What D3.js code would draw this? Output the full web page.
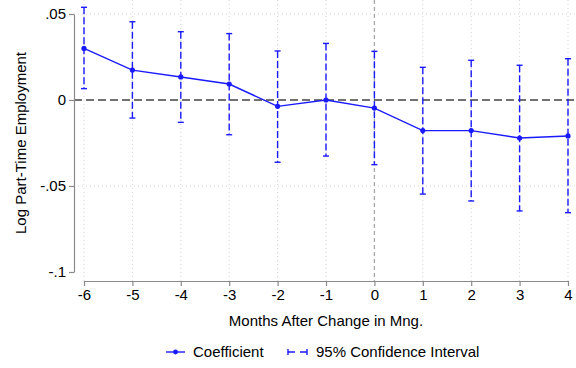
<!DOCTYPE html>
<html><head><meta charset="utf-8">
<script src="https://cdn.jsdelivr.net/npm/d3@7"></script>
<style>body{margin:0;background:#fff}svg{display:block}text{font-family:"Liberation Sans",Arial,sans-serif}</style>
</head><body>
<svg id="c" width="576" height="368"></svg>
<script>
const months = [-6,-5,-4,-3,-2,-1,0,1,2,3,4];
const coef   = [0.0300,0.0174,0.0134,0.0093,-0.0037,0.0000,-0.0047,-0.0178,-0.0178,-0.0221,-0.0209];
const ciHigh = [0.0539,0.0455,0.0397,0.0386,0.0285,0.0329,0.0283,0.0190,0.0231,0.0202,0.0240];
const ciLow  = [0.0066,-0.0105,-0.0130,-0.0202,-0.0362,-0.0326,-0.0376,-0.0547,-0.0587,-0.0645,-0.0655];
const yTicks = [-0.1,-0.05,0,0.05];
const yTickLabels = ["-.1","-.05","0",".05"];
const xLabel = "Months After Change in Mng.";
const yLabel = "Log Part-Time Employment";
const legendLabels = ["Coefficient","95% Confidence Interval"];

const svg = d3.select("#c");
const x = d3.scaleLinear().domain([-6,4]).range([84,568]);
const y = d3.scaleLinear().domain([-0.1,0.05]).range([272,14]);
const blue = "#1a1aff";
const plotTop = 0, plotBottom = 281, plotLeft = 74, plotRight = 576;

// gridlines
const g = svg.append("g");
g.selectAll(".vg").data(months.filter(m=>m!==0)).enter().append("line")
  .attr("x1",d=>x(d)).attr("x2",d=>x(d)).attr("y1",plotTop).attr("y2",plotBottom)
  .attr("stroke","#d4d4d4").attr("stroke-width",1).attr("stroke-dasharray","1,3");
g.selectAll(".hg").data([0.05,-0.05]).enter().append("line")
  .attr("x1",plotLeft).attr("x2",plotRight).attr("y1",d=>y(d)).attr("y2",d=>y(d))
  .attr("stroke","#d4d4d4").attr("stroke-width",1).attr("stroke-dasharray","1,3");
// reference lines
g.append("line").attr("x1",x(0)).attr("x2",x(0)).attr("y1",plotTop).attr("y2",plotBottom)
  .attr("stroke","#a8a8a8").attr("stroke-width",1.3).attr("stroke-dasharray","4,3");
g.append("line").attr("x1",plotLeft).attr("x2",plotRight).attr("y1",y(0)).attr("y2",y(0))
  .attr("stroke","#444").attr("stroke-width",1.3).attr("stroke-dasharray","8,4");

// axes
const yAxis = d3.axisLeft(y).tickValues(yTicks).tickFormat((d,i)=>yTickLabels[i]).tickSize(5).tickSizeOuter(0).tickPadding(3);
const ya = svg.append("g").attr("transform",`translate(${plotLeft},0)`).call(yAxis);
const xAxis = d3.axisBottom(x).tickValues(months).tickFormat(d3.format("d")).tickSize(5).tickSizeOuter(0).tickPadding(3);
const xa = svg.append("g").attr("transform",`translate(0,${plotBottom})`).call(xAxis);
[ya,xa].forEach(a=>{
  a.selectAll("path,line").attr("stroke","#8a8a8a").attr("stroke-width",1.2);
  a.selectAll("text").attr("font-size",15).attr("fill","#000").style("font-family","'Liberation Sans',Arial,sans-serif");
});
xa.selectAll("text").text((d)=>d<0?"-"+Math.abs(d):d);

svg.append("text").attr("x",(x(-6)+x(4))/2).attr("y",326).attr("text-anchor","middle").attr("font-size",15).text(xLabel);
svg.append("text").attr("transform",`translate(26,${(y(0.05)+y(-0.1))/2}) rotate(-90)`).attr("text-anchor","middle").attr("font-size",15).text(yLabel);

// CI
const ci = svg.append("g");
months.forEach((m,i)=>{
  ci.append("line").attr("x1",x(m)).attr("x2",x(m)).attr("y1",y(ciHigh[i])).attr("y2",y(ciLow[i]))
    .attr("stroke",blue).attr("stroke-width",1.4).attr("stroke-dasharray","7,3");
  [ciHigh[i],ciLow[i]].forEach(v=>{
    ci.append("line").attr("x1",x(m)-3).attr("x2",x(m)+3).attr("y1",y(v)).attr("y2",y(v))
      .attr("stroke",blue).attr("stroke-width",1.4);
  });
});

// coefficient line
const line = d3.line().x((d,i)=>x(months[i])).y(d=>y(d));
svg.append("path").datum(coef).attr("d",line).attr("fill","none").attr("stroke",blue).attr("stroke-width",1.4);
svg.selectAll(".pt").data(coef).enter().append("circle")
  .attr("cx",(d,i)=>x(months[i])).attr("cy",d=>y(d)).attr("r",2.6).attr("fill",blue);

// legend
const ly = 352;
const lg = svg.append("g");
lg.append("line").attr("x1",166).attr("x2",185).attr("y1",ly).attr("y2",ly).attr("stroke",blue).attr("stroke-width",1.4);
lg.append("circle").attr("cx",175.5).attr("cy",ly).attr("r",2.4).attr("fill",blue);
lg.append("text").attr("x",193).attr("y",ly+5).attr("font-size",15).text(legendLabels[0]);
lg.append("line").attr("x1",288).attr("x2",307).attr("y1",ly).attr("y2",ly).attr("stroke",blue).attr("stroke-width",1.4).attr("stroke-dasharray","7,5");
lg.append("line").attr("x1",288).attr("x2",288).attr("y1",ly-3).attr("y2",ly+3).attr("stroke",blue).attr("stroke-width",1.4);
lg.append("line").attr("x1",307).attr("x2",307).attr("y1",ly-3).attr("y2",ly+3).attr("stroke",blue).attr("stroke-width",1.4);
lg.append("text").attr("x",316).attr("y",ly+5).attr("font-size",15).text(legendLabels[1]);
</script>
</body></html>
